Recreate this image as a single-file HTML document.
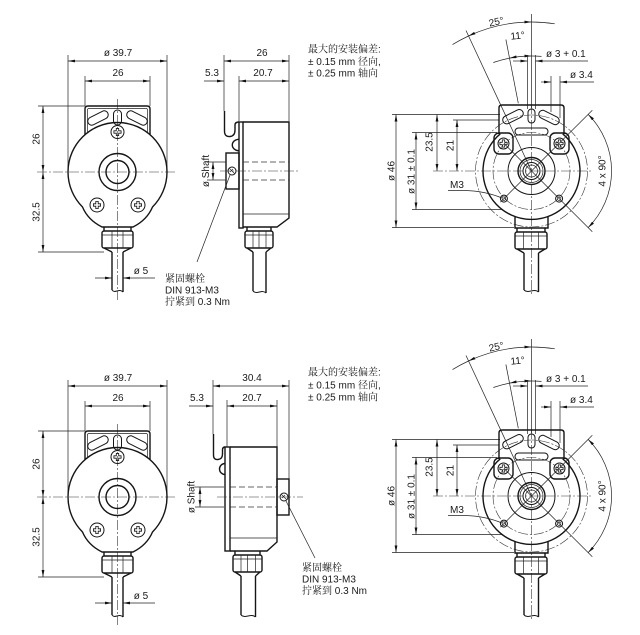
<!DOCTYPE html>
<html><head><meta charset="utf-8"><style>
html,body{margin:0;padding:0;background:#fff;}
svg{display:block;}
text{font-family:"Liberation Sans","Noto Serif CJK SC",sans-serif;font-size:10px;fill:#1a1a1a;}
.o{fill:none;stroke:#151515;stroke-width:1.4;}
.o1{fill:none;stroke:#151515;stroke-width:1;}
.t{fill:none;stroke:#222;stroke-width:0.7;}
.c{fill:none;stroke:#333;stroke-width:0.6;stroke-dasharray:10 2 2 2;}
.d{fill:none;stroke:#333;stroke-width:0.8;stroke-dasharray:6 3;}
.dm{fill:none;stroke:#222;stroke-width:0.7;marker-start:url(#ar);marker-end:url(#ar);}
.de{fill:none;stroke:#222;stroke-width:0.7;marker-end:url(#ar);}
</style></head><body>
<svg width="640" height="635" viewBox="0 0 640 635" xmlns="http://www.w3.org/2000/svg">
<defs>
<marker id="ar" viewBox="0 0 10 4" refX="10" refY="2" markerWidth="7" markerHeight="2.8" orient="auto-start-reverse" markerUnits="userSpaceOnUse"><path d="M0,0L10,2L0,4z" fill="#111"/></marker>
<g id="cross"><path d="M-1.2,-3.6h2.4v2.4h2.4v2.4h-2.4v2.4h-2.4v-2.4h-2.4v-2.4h2.4z" fill="none" stroke="#111" stroke-width="0.8"/></g>

<!-- FRONT VIEW GEOMETRY -->
<g id="fvg">
<path class="t" d="M68,55V172 M167,55V172 M85,76V106 M150,76V106 M38,106H85 M38,252H104"/>
<path class="dm" d="M68,61H167"/>
<path class="dm" d="M85,81H150"/>
<path class="dm" d="M43,106V172"/>
<path class="dm" d="M43,172V252"/>
<path class="c" d="M37,172H177 M117.5,99V300"/>
<path class="o" d="M85,134.7V109Q85,106 88,106H147Q150,106 150,109V134.7"/>
<path class="t" d="M87.5,133V110Q87.5,108.5 89,108.5H146Q147.5,108.5 147.5,110V133"/>
<path class="o" d="M82.5,207A49.5,49.5 0 1 1 152.5,207Q147,220 133,227H102Q88,220 82.5,207Z"/>
<circle class="o" cx="117.5" cy="172" r="18.5"/>
<circle class="o" cx="117.5" cy="172" r="11.5"/>
<circle class="o1" cx="117.5" cy="132" r="6.5"/>
<use href="#cross" x="117.5" y="132"/>
<circle class="o1" cx="97" cy="205" r="7"/>
<use href="#cross" x="97" y="205"/>
<circle class="o1" cx="138" cy="205" r="7"/>
<use href="#cross" x="138" y="205"/>
<rect class="o1" x="87" y="114" width="22" height="8" rx="4" transform="rotate(-27 98 118)"/>
<rect class="o1" x="126" y="114" width="22" height="8" rx="4" transform="rotate(27 137 118)"/>
<rect class="o1" x="113.5" y="110" width="8" height="15" rx="4"/>
<path class="o" d="M104,227V231 M131,227V231"/>
<rect class="o" x="102" y="231" width="31" height="17" rx="2"/>
<path class="t" d="M102,235H133 M112,231V248 M123,231V248"/>
<path class="o" d="M104,248L112,252 M131,248L123,252"/>
<path class="o" d="M112,252V290 M123,252V292"/>
<path class="o1" d="M112,290C115,294 119,288 123,292"/>
<path class="de" d="M95,278H112"/>
<path class="de" d="M155,278H123"/>
</g>

<!-- RIGHT VIEW GEOMETRY -->
<g id="rvg">
<path class="t" d="M392,114.5H500 M392,227.5H514 M412,132.5H497 M412,209.5H503 M453,120H499"/>
<path class="dm" d="M396,114.5V227.5"/>
<path class="dm" d="M416,132.5V209.5"/>
<path class="dm" d="M437,114.5V171"/>
<path class="dm" d="M457,120V171"/>
<path class="c" d="M433,171H592"/>
<path class="c" d="M531.5,104V294"/>
<path class="t" d="M531.5,14V108"/>
<path class="t" d="M531.5,171L466,30.5"/>
<path class="t" d="M518.3,103.3L505.9,39.5"/>
<path class="t" d="M452.5,44.6A149,149 0 0 1 468.5,36"/>
<path class="dm" d="M468.5,36A149,149 0 0 1 531.5,22"/>
<path class="t" d="M531.5,22A149,149 0 0 1 554.8,23.8"/>
<path class="t" d="M493.3,62.5A115,115 0 0 1 509.6,58.1"/>
<path class="dm" d="M509.6,58.1A115,115 0 0 1 531.5,56"/>
<path class="t" d="M531.5,56A115,115 0 0 1 541.5,56.4"/>
<path class="t" d="M527.5,55V109 M535.5,55V109"/>
<path class="de" d="M513,61H527.5"/>
<path class="de" d="M588,61H535.5"/>
<path class="t" d="M551,76V112 M560,76V118"/>
<path class="de" d="M541,82H551"/>
<path class="de" d="M594,82H560"/>
<circle class="c" cx="531.5" cy="171" r="56"/>
<circle class="c" cx="531.5" cy="171" r="38.5"/>
<path class="o" d="M499,134V108Q499,105 502,105H561Q564,105 564,108V134"/>
<rect class="o" x="494" y="133" width="19" height="21" rx="5" fill="#fff"/>
<rect class="o" x="550" y="133" width="19" height="21" rx="5" fill="#fff"/>
<circle class="o1" cx="503.5" cy="143.5" r="5.5"/>
<use href="#cross" x="503.5" y="143.5"/>
<circle class="o1" cx="559.5" cy="143.5" r="5.5"/>
<use href="#cross" x="559.5" y="143.5"/>
<rect class="o1" x="502" y="112.7" width="22" height="8" rx="4" transform="rotate(-26.6 513 116.7)"/>
<rect class="o1" x="538" y="113.5" width="22" height="8" rx="4" transform="rotate(27 549 117.5)"/>
<rect class="o1" x="528" y="109" width="7" height="14" rx="3.5"/>
<rect class="o1" x="515" y="128" width="33" height="7" rx="3.5"/>
<path class="o" d="M500.3,133.8A48.5,48.5 0 1 0 562.7,133.8"/>
<path class="o" d="M515,216.6V228H548V216.6"/>
<circle class="o1" cx="531.5" cy="171" r="23.5"/>
<circle class="o" cx="531.5" cy="171" r="13.5"/>
<circle class="t" cx="531.5" cy="171" r="11.5"/>
<circle class="o1" cx="531.5" cy="171" r="8.5"/>
<circle class="t" cx="531.5" cy="171" r="6"/>
<path class="t" d="M531.5,171L592.3,110.2 M531.5,171L592.3,231.8 M531.5,171L500.4,202.1 M531.5,171L504,143.5"/>
<circle class="o1" cx="503.9" cy="198.6" r="3.5"/>
<circle class="t" cx="503.9" cy="198.6" r="1.8"/>
<circle class="o1" cx="559.1" cy="198.6" r="3.5"/>
<circle class="t" cx="559.1" cy="198.6" r="1.8"/>
<path class="dm" d="M588.1,114.4A80,80 0 0 1 588.1,227.6"/>
<path class="t" d="M448,190.5H465Q485,191 502,198"/>
<path class="o" d="M517,228V232 M545,228V232"/>
<rect class="o" x="515" y="232" width="32" height="17" rx="2"/>
<path class="t" d="M515,236H547 M523.5,232V249 M538.5,232V249"/>
<path class="o" d="M517,249L524,253 M545,249L538.5,253"/>
<path class="o" d="M524,253V290 M538.5,253V292"/>
<path class="o1" d="M524,290C528,294 534,288 538.5,292"/>
</g>
</defs>

<rect width="640" height="635" fill="#fff"/>

<!-- FRONT VIEWS -->
<use href="#fvg"/>
<use href="#fvg" y="325"/>
<g>
<text x="118" y="56" text-anchor="middle">ø 39.7</text>
<text x="118" y="76" text-anchor="middle">26</text>
<text transform="translate(39.5,139) rotate(-90)" text-anchor="middle">26</text>
<text transform="translate(39.5,212) rotate(-90)" text-anchor="middle">32.5</text>
<text x="141" y="274" text-anchor="middle">ø 5</text>
</g>
<g transform="translate(0,325)">
<text x="118" y="56" text-anchor="middle">ø 39.7</text>
<text x="118" y="76" text-anchor="middle">26</text>
<text transform="translate(39.5,139) rotate(-90)" text-anchor="middle">26</text>
<text transform="translate(39.5,212) rotate(-90)" text-anchor="middle">32.5</text>
<text x="141" y="274" text-anchor="middle">ø 5</text>
</g>

<!-- RIGHT VIEWS -->
<use href="#rvg"/>
<use href="#rvg" y="325"/>
<g>
<text transform="translate(394.3,171) rotate(-90)" text-anchor="middle">ø 46</text>
<text transform="translate(414.5,171.5) rotate(-90)" text-anchor="middle">ø 31 ± 0.1</text>
<text transform="translate(432.7,142) rotate(-90)" text-anchor="middle">23.5</text>
<text transform="translate(453.5,145.5) rotate(-90)" text-anchor="middle">21</text>
<text transform="translate(497,25) rotate(-12)" text-anchor="middle">25°</text>
<text transform="translate(518,39) rotate(-6)" text-anchor="middle">11°</text>
<text x="546" y="57">ø 3 + 0.1</text>
<text x="570" y="78">ø 3.4</text>
<text transform="translate(605.5,171) rotate(-90)" text-anchor="middle">4 x 90°</text>
<text x="450" y="188">M3</text>
</g>
<g transform="translate(0,325)">
<text transform="translate(394.3,171) rotate(-90)" text-anchor="middle">ø 46</text>
<text transform="translate(414.5,171.5) rotate(-90)" text-anchor="middle">ø 31 ± 0.1</text>
<text transform="translate(432.7,142) rotate(-90)" text-anchor="middle">23.5</text>
<text transform="translate(453.5,145.5) rotate(-90)" text-anchor="middle">21</text>
<text transform="translate(497,25) rotate(-12)" text-anchor="middle">25°</text>
<text transform="translate(518,39) rotate(-6)" text-anchor="middle">11°</text>
<text x="546" y="57">ø 3 + 0.1</text>
<text x="570" y="78">ø 3.4</text>
<text transform="translate(605.5,171) rotate(-90)" text-anchor="middle">4 x 90°</text>
<text x="450" y="188">M3</text>
</g>

<!-- SIDE VIEW TOP -->
<g>
<path class="t" d="M224,55V111 M239,76V121 M289,55V121"/>
<path class="dm" d="M224,61H289"/>
<path class="de" d="M204,81H224"/>
<path class="dm" d="M239,81H289"/>
<rect class="o" x="239" y="122" width="4" height="106"/>
<path class="o" d="M243,122H289V218L277,227H243"/>
<path class="t" d="M243,214H289"/>
<path class="o" d="M224.5,111V131Q224.5,137 230,136.5Q235,136 235,130V125Q235,122 239,122"/>
<path class="o" d="M239,139.3A6.7,5.7 0 0 0 239,150.7"/>
<rect class="o" x="226" y="153" width="13" height="36"/>
<circle class="o1" cx="232" cy="171" r="4"/>
<path class="t" d="M229.5,168.5L234.5,173.5 M230,172L233,169"/>
<path class="c" d="M220,171H300"/>
<path class="d" d="M243,162H289 M243,180H289"/>
<path class="t" d="M207,162H226 M207,180H226"/>
<path class="dm" d="M213,162V180"/>
<path class="o" d="M247,227V231 M271,227V231"/>
<rect class="o" x="245" y="231" width="28" height="17" rx="2"/>
<path class="t" d="M245,235H273 M253,231V248 M259,231V248 M266,231V248"/>
<path class="o" d="M247,248L253,252 M271,248L266,252"/>
<path class="o" d="M253,252V291 M266,252V293"/>
<path class="o1" d="M253,291C257,295 262,289 266,293"/>
<path class="t" d="M230,175L197,262"/>
<text x="262" y="56" text-anchor="middle">26</text>
<text x="212" y="76" text-anchor="middle">5.3</text>
<text x="263" y="76" text-anchor="middle">20.7</text>
<text transform="translate(209,171) rotate(-90)" text-anchor="middle">ø Shaft</text>
<text x="165" y="282">紧固螺栓</text>
<text x="165" y="293.5">DIN 913-M3</text>
<text x="165" y="305">拧紧到 0.3 Nm</text>
<text x="308" y="52.5">最大的安装偏差:</text>
<text x="308" y="65">± 0.15 mm 径向,</text>
<text x="308" y="76.5">± 0.25 mm 轴向</text>
</g>

<!-- SIDE VIEW BOTTOM -->
<g>
<path class="t" d="M213,380V434 M227,400V447 M277,400V447 M289,380V479"/>
<path class="dm" d="M213,386H289"/>
<path class="de" d="M189,406H213"/>
<path class="dm" d="M227,406H277"/>
<rect class="o" x="225" y="447" width="5" height="104"/>
<path class="o" d="M230,447H277V542L267,551H230"/>
<path class="t" d="M230,538H277"/>
<path class="o" d="M213.5,434V455Q213.5,460 218,459.5Q222.5,459 222.5,454V450Q222.5,447 225,447"/>
<path class="o" d="M225,463.5A5.5,5.5 0 0 0 225,474.5"/>
<rect class="o" x="277" y="479" width="12" height="36"/>
<circle class="o1" cx="284" cy="497" r="4"/>
<path class="t" d="M281.5,494.5L286.5,499.5 M282,498L285,495"/>
<path class="c" d="M217,497H303"/>
<path class="d" d="M230,487H277 M230,507H277"/>
<path class="t" d="M195,487H224 M195,507H224"/>
<path class="dm" d="M200,487V507"/>
<path class="o" d="M235,551V555 M260,551V555"/>
<rect class="o" x="233" y="555" width="29" height="17" rx="2"/>
<path class="t" d="M233,559H262 M241,555V572 M247.5,555V572 M255.5,555V572"/>
<path class="o" d="M235,572L241,576 M260,572L255.5,576"/>
<path class="o" d="M241,576V615 M255.5,576V617"/>
<path class="o1" d="M241,615C245,619 251,613 255.5,617"/>
<path class="t" d="M286,501L315,558"/>
<text x="252" y="381" text-anchor="middle">30.4</text>
<text x="197" y="401" text-anchor="middle">5.3</text>
<text x="252" y="401" text-anchor="middle">20.7</text>
<text transform="translate(194.5,497) rotate(-90)" text-anchor="middle">ø Shaft</text>
<text x="302" y="571">紧固螺栓</text>
<text x="302" y="582.5">DIN 913-M3</text>
<text x="302" y="594">拧紧到 0.3 Nm</text>
<text x="308" y="375.5">最大的安装偏差:</text>
<text x="308" y="388.5">± 0.15 mm 径向,</text>
<text x="308" y="400.5">± 0.25 mm 轴向</text>
</g>
</svg>
</body></html>
